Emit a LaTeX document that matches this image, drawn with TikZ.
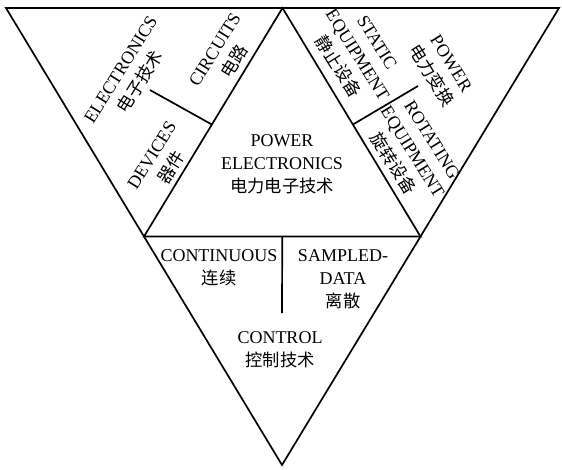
\documentclass[tikz,border=0pt]{standalone}
\usepackage{fontspec}
\setmainfont{Liberation Serif}
\newfontfamily\cjk[Scale=0.96]{Noto Sans CJK SC}
\usetikzlibrary{calc}
\begin{document}
\begin{tikzpicture}[x=1pt,y=-1pt,
  edge/.style={line width=1.7pt,line join=miter},
  lbl/.style={align=center,inner sep=0pt,font=\fontsize{18}{23}\selectfont},
  lup/.style={lbl,rotate=58},
  ldn/.style={lbl,rotate=-58}]
\useasboundingbox (0,0) rectangle (562,469);
% outer triangle
\coordinate (TL) at (6,8);
\coordinate (TR) at (559,8);
\coordinate (BO) at (282,465);
% inner triangle
\coordinate (MT) at ($(TL)!0.5!(TR)$);
\coordinate (ML) at ($(TL)!0.5!(BO)$);
\coordinate (MR) at ($(TR)!0.5!(BO)$);
\draw[edge] (TL) -- (TR) -- (BO) -- cycle;
\draw[edge] (MT) -- (ML) -- (MR) -- cycle;
% dividers
\coordinate (dl1) at ($(ML)!0.49!(MT)$);
\coordinate (dl2) at (150,90);
\coordinate (dr1) at ($(MR)!0.49!(MT)$);
\coordinate (dr2) at (418,86);
\coordinate (db1) at ($(ML)!0.5!(MR)$);
\coordinate (db2) at (282,313);
\draw[edge] (dl1) -- (dl2);
\draw[edge] (dr1) -- (dr2);
\draw[edge] (db1) -- (db2);
% left region
\node[lup] (elec) at (131,76) {ELECTRONICS\\{\cjk 电子技术}};
\node[lup] (circ) at (225,56) {CIRCUITS\\{\cjk 电路}};
\node[lup] (dev) at (162,162) {DEVICES\\{\cjk 器件}};
% right region
\node[ldn] (stat) at (357,55) {STATIC\\EQUIPMENT\\{\cjk 静止设备}};
\node[ldn] (pow) at (441,70) {POWER\\{\cjk 电力变换}};
\node[ldn] (rot) at (412,152) {ROTATING\\EQUIPMENT\\{\cjk 旋转设备}};
% center
\node[lbl] (pe) at (282,164) {POWER\\ELECTRONICS\\{\cjk 电力电子技术}};
% bottom region
\node[lbl] (cont) at (219,268) {CONTINUOUS\\{\cjk 连续}};
\node[lbl] (samp) at (343,279) {SAMPLED-\\DATA\\{\cjk 离散}};
\node[lbl] (ctrl) at (280,350) {CONTROL\\{\cjk 控制技术}};
\end{tikzpicture}
\end{document}
